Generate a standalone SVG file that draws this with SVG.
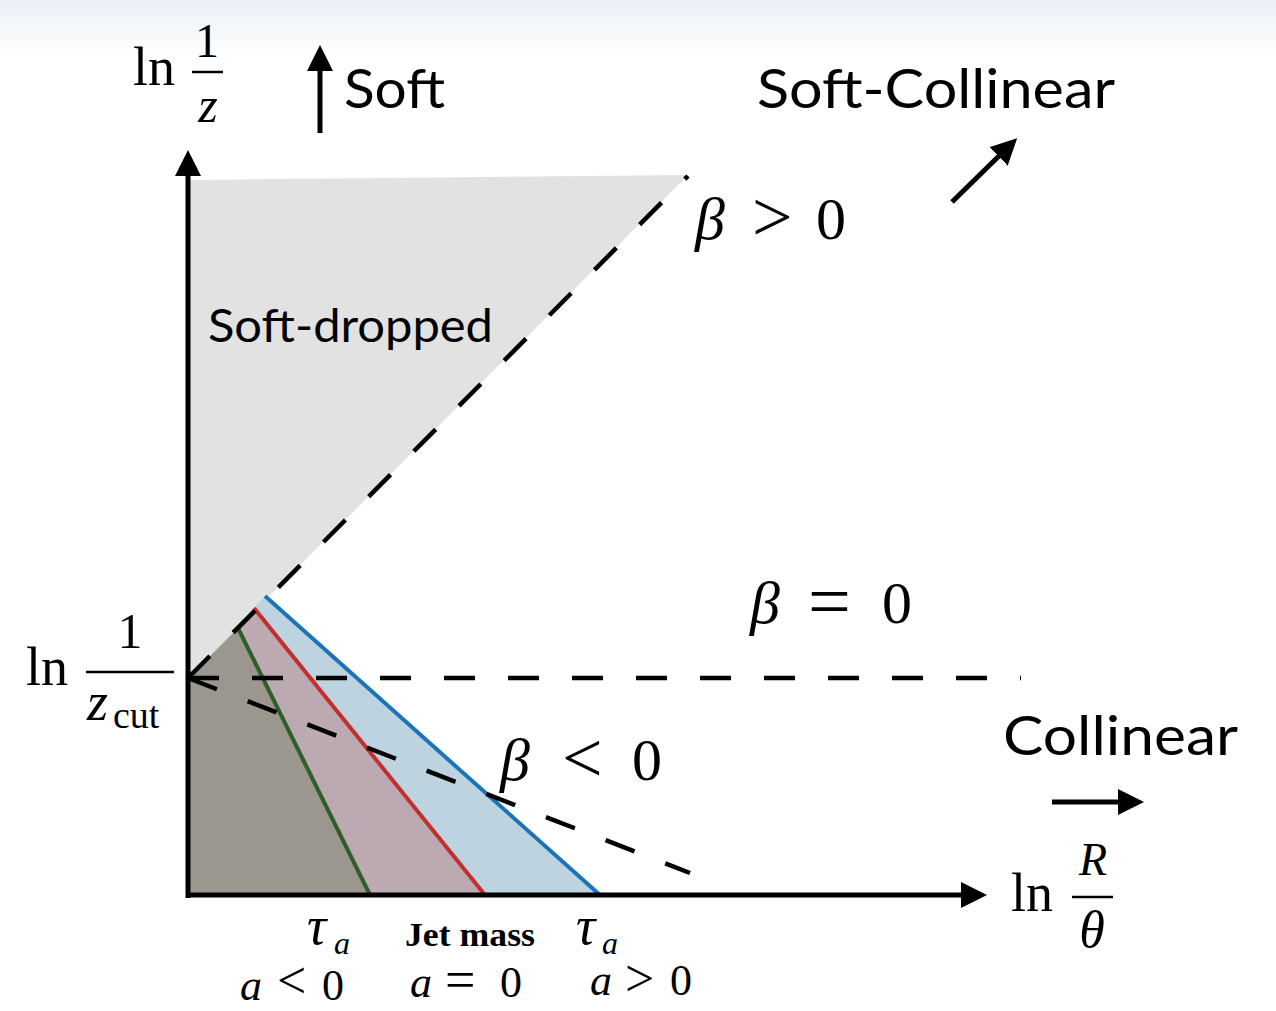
<svg xmlns="http://www.w3.org/2000/svg" width="1276" height="1011" viewBox="0 0 1276 1011">
<defs>
<linearGradient id="bg" x1="0" y1="0" x2="0" y2="1">
<stop offset="0" stop-color="#ebf0f6"/>
<stop offset="1" stop-color="#ffffff"/>
</linearGradient>
<marker id="ah" markerUnits="userSpaceOnUse" markerWidth="28" markerHeight="28" refX="2" refY="13" orient="auto" viewBox="0 0 28 28">
<path d="M0,0 L26,13 L0,26 z" fill="#000"/>
</marker>
</defs>
<style>
.m{font-family:"Liberation Serif","DejaVu Serif",serif;fill:#000}
.i{font-style:italic}
.g{font-family:Lato,"Open Sans",sans-serif;fill:#000}
.ax{stroke:#000;stroke-width:5;fill:none}
.ds{stroke:#000;stroke-width:4.5;fill:none;stroke-dasharray:31 33}
.bar{stroke:#000;stroke-width:2.5}
</style>
<rect x="0" y="0" width="1276" height="1011" fill="#fff"/>
<rect x="0" y="0" width="1276" height="60" fill="url(#bg)"/>

<g id="soft-dropped-region">
<polygon points="190,180 688,175 188,678" fill="#e2e2e2"/>
<text class="g" x="208" y="342" font-size="46" textLength="285" lengthAdjust="spacingAndGlyphs">Soft-dropped</text>
</g>
<g id="region-a-neg">
<polygon points="188,678 238,628 370,893 188,893" fill="#9b978f"/>
</g>
<g id="region-a-zero">
<polygon points="238,628 254,608 485,893 370,893" fill="#bca9b1"/>
</g>
<g id="region-a-pos">
<polygon points="254,608 265,596 600,893 485,893" fill="#bed3e0"/>
</g>

<g id="connectors">
<line x1="238" y1="628" x2="370" y2="895" stroke="#2d5e2b" stroke-width="4"/>
<line x1="254" y1="608" x2="485" y2="895" stroke="#c1302e" stroke-width="4"/>
<line x1="265" y1="596" x2="600" y2="895" stroke="#1b74ba" stroke-width="4"/>
<line class="ds" x1="188" y1="678" x2="688" y2="176"/>
<line class="ds" x1="188" y1="678" x2="1021" y2="678"/>
<line class="ds" x1="188" y1="678" x2="690" y2="873"/>
<line class="ax" x1="188" y1="898" x2="188" y2="174" marker-end="url(#ah)"/>
<line class="ax" x1="186" y1="895" x2="963" y2="895" marker-end="url(#ah)"/>
<line class="ax" x1="320" y1="133" x2="320" y2="69" marker-end="url(#ah)"/>
<line class="ax" x1="952" y1="202" x2="1000" y2="155" marker-end="url(#ah)"/>
<line class="ax" x1="1052" y1="802" x2="1120" y2="802" marker-end="url(#ah)"/>
</g>

<g id="label-y-axis">
<text class="m" x="133" y="85" font-size="54">ln</text>
<text class="m" x="207" y="57" font-size="48" text-anchor="middle">1</text>
<line class="bar" x1="192" y1="72" x2="223" y2="72"/>
<text class="m i" x="208" y="122" font-size="50" text-anchor="middle">z</text>
</g>
<g id="label-soft">
<text class="g" x="344" y="108" font-size="54" textLength="101" lengthAdjust="spacingAndGlyphs">Soft</text>
</g>
<g id="label-soft-collinear">
<text class="g" x="757" y="108" font-size="54" textLength="358" lengthAdjust="spacingAndGlyphs">Soft-Collinear</text>
</g>
<g id="label-collinear">
<text class="g" x="1003" y="755" font-size="54" textLength="235" lengthAdjust="spacingAndGlyphs">Collinear</text>
</g>
<g id="label-zcut">
<text class="m" x="26" y="685" font-size="54">ln</text>
<text class="m" x="130" y="648" font-size="50" text-anchor="middle">1</text>
<line class="bar" x1="86" y1="672" x2="174" y2="672"/>
<text class="m i" x="87" y="720" font-size="54">z</text>
<text class="m" x="113" y="728" font-size="38">cut</text>
</g>
<g id="label-x-axis">
<text class="m" x="1011" y="911" font-size="54">ln</text>
<text class="m i" x="1093" y="875" font-size="46" text-anchor="middle">R</text>
<line class="bar" x1="1072" y1="897" x2="1113" y2="897"/>
<text class="m i" x="1092" y="947" font-size="52" text-anchor="middle">θ</text>
</g>
<g id="label-beta-pos">
<text class="m i" x="695" y="239" font-size="60">β</text>
<text class="m" x="752" y="241" font-size="72">&gt;</text>
<text class="m" x="816" y="239" font-size="60">0</text>
</g>
<g id="label-beta-zero">
<text class="m i" x="750" y="623" font-size="60">β</text>
<text class="m" x="808" y="627" font-size="76">=</text>
<text class="m" x="882" y="623" font-size="60">0</text>
</g>
<g id="label-beta-neg">
<text class="m i" x="500" y="780" font-size="60">β</text>
<text class="m" x="562" y="782" font-size="72">&lt;</text>
<text class="m" x="632" y="780" font-size="60">0</text>
</g>
<g id="label-tau-neg">
<text class="m i" x="307" y="944" font-size="54">τ</text>
<text class="m i" x="334" y="954" font-size="32">a</text>
<text class="m i" x="240" y="1000" font-size="44">a</text>
<text class="m" x="277" y="998" font-size="52">&lt;</text>
<text class="m" x="322" y="1000" font-size="44">0</text>
</g>
<g id="label-jet-mass">
<text class="m" x="405" y="946" font-size="34" font-weight="bold" textLength="130" lengthAdjust="spacingAndGlyphs">Jet mass</text>
<text class="m i" x="410" y="997" font-size="44">a</text>
<text class="m" x="445" y="998" font-size="54">=</text>
<text class="m" x="500" y="997" font-size="44">0</text>
</g>
<g id="label-tau-pos">
<text class="m i" x="576" y="944" font-size="54">τ</text>
<text class="m i" x="602" y="954" font-size="32">a</text>
<text class="m i" x="590" y="995" font-size="44">a</text>
<text class="m" x="625" y="996" font-size="52">&gt;</text>
<text class="m" x="670" y="995" font-size="44">0</text>
</g>
</svg>
